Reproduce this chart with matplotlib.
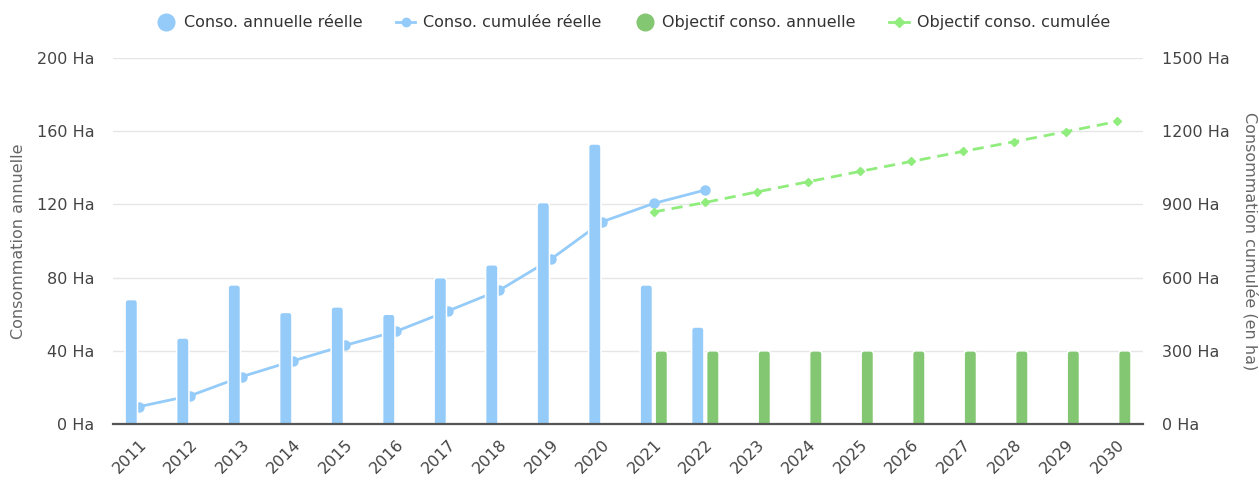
import matplotlib
matplotlib.use("Agg")
import matplotlib.pyplot as plt
from matplotlib.lines import Line2D
from matplotlib.patches import FancyBboxPatch
from matplotlib.ticker import FuncFormatter, FixedLocator
import numpy as np

years = [str(y) for y in range(2011, 2031)]
annual_real = [68, 47, 76, 61, 64, 60, 80, 87, 121, 153, 76, 53]
cumul_real = [71, 116, 194, 259, 322, 380, 463, 548, 675, 829, 904, 959]
annual_obj = [40, 40, 40, 40, 40, 40, 40, 40, 40, 40]
cumul_obj = [869, 908, 951, 993, 1035, 1076, 1117, 1157, 1198, 1240]
left_ticks = [0, 40, 80, 120, 160, 200]
right_ticks = [0, 300, 600, 900, 1200, 1500]

BLUE = "#94CBF9"
GREEN_BAR = "#83C772"
GREEN_LINE = "#90ED7D"
TXT = "#444444"
TITLE = "#666666"
FS = 11.5

plt.rcParams["font.family"] = ["DejaVu Sans"]

fig = plt.figure(figsize=(12.59, 4.82), dpi=100)
ax_cum = fig.add_axes([0.0898, 0.1203, 0.8181, 0.7594])
ax_ann = ax_cum.twinx()

x = np.arange(len(years))
x_real = x[:len(annual_real)]
x_obj = x[len(years) - len(annual_obj):]

# cumulative lines (behind bars)
ax_cum.plot(x_real, cumul_real, color=BLUE, lw=2, marker="o", ms=6.5, zorder=2)
ax_cum.plot(x_obj, cumul_obj, color=GREEN_LINE, lw=2, ls=(0, (4, 2.5)), marker="D", ms=4.5, zorder=2)

for a in (ax_cum, ax_ann):
    a.set_xlim(-0.5, len(years) - 0.5)
    for s in ("top", "left", "right", "bottom"):
        a.spines[s].set_visible(False)
    a.patch.set_visible(False)

ax_cum.set_ylim(0, 1500)
ax_ann.set_ylim(0, 200)

# bars on top, with rounded tops
bw = 0.24
off = 0.146
rx = 0.06
ry = 1.7
def rounded_bars(ax, xs, vals, color):
    bars = ax.bar(xs, vals, width=bw, color=color, zorder=3)
    for b in bars:
        x0, y0, w, h = b.get_x(), b.get_y(), b.get_width(), b.get_height()
        b.set_visible(False)
        p = FancyBboxPatch((x0, y0 - ry), w, h + ry,
                           boxstyle=f"round,pad=0,rounding_size={rx}",
                           mutation_aspect=ry / rx,
                           facecolor=color, edgecolor="white", linewidth=1.1, zorder=3)
        ax.add_patch(p)

rounded_bars(ax_ann, x_real - off, annual_real, BLUE)
rounded_bars(ax_ann, x_obj + off, annual_obj, GREEN_BAR)

ax_ann.axhline(0, color="#555555", lw=1.6, zorder=4, clip_on=False)

# swap sides: annual on the left, cumulative on the right
ax_ann.yaxis.tick_left()
ax_ann.yaxis.set_label_position("left")
ax_cum.yaxis.tick_right()
ax_cum.yaxis.set_label_position("right")

ax_ann.yaxis.set_major_locator(FixedLocator(left_ticks))
ax_cum.yaxis.set_major_locator(FixedLocator(right_ticks))
fmt = FuncFormatter(lambda v, p: f"{int(v)} Ha")
ax_ann.yaxis.set_major_formatter(fmt)
ax_cum.yaxis.set_major_formatter(fmt)

ax_ann.tick_params(axis="y", length=0, pad=13.5, labelsize=FS, labelcolor=TXT)
ax_cum.tick_params(axis="y", length=0, pad=14, labelsize=FS, labelcolor=TXT)

ax_cum.grid(axis="y", color="#E6E6E6", lw=1)
ax_cum.set_axisbelow(True)

ax_cum.set_xticks(x)
ax_cum.set_xticklabels(years, rotation=45, ha="right", rotation_mode="anchor")
ax_cum.tick_params(axis="x", length=0, pad=9, labelsize=FS, labelcolor=TXT)
ax_ann.tick_params(axis="x", length=0, labelbottom=False)

ax_ann.set_ylabel("Consommation annuelle", fontsize=FS, color=TITLE, labelpad=8)
ax_cum.set_ylabel("Consommation cumulée (en ha)", fontsize=FS, color=TITLE, rotation=270, labelpad=20)

handles = [
    Line2D([], [], ls="none", marker="o", ms=12, color=BLUE),
    Line2D([], [], color=BLUE, lw=2, marker="o", ms=6),
    Line2D([], [], ls="none", marker="o", ms=12, color=GREEN_BAR),
    Line2D([], [], color=GREEN_LINE, lw=2, marker="D", ms=5),
]
labels = ["Conso. annuelle réelle", "Conso. cumulée réelle", "Objectif conso. annuelle", "Objectif conso. cumulée"]
fig.legend(handles, labels, loc="upper center", bbox_to_anchor=(0.503, 1.0), ncol=4, frameon=False,
           fontsize=FS, labelcolor="#333333", handlelength=1.2, columnspacing=2.1, handletextpad=0.5)

fig.savefig("out.png", dpi=100, facecolor="white")
